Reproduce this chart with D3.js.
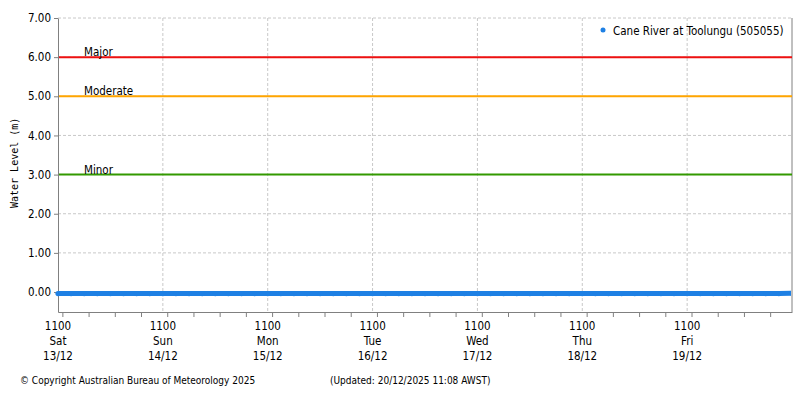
<!DOCTYPE html>
<html lang="en">
<head>
    <meta charset="UTF-8">
    <title>Cane River at Toolungu (505055)</title>
    <script src="https://d3js.org/d3.v7.min.js"></script>
    <style>
        body { margin: 0; background: #fff; }
        svg { display: block; font-family: "DejaVu Sans Condensed", "DejaVu Sans", Verdana, sans-serif; font-stretch: condensed; }
        .grid line { stroke: #c8c8c8; stroke-dasharray: 3,2; }
        .axis path, .axis line { stroke: #808080; }
        .axis text { font-size: 11.5px; fill: #000; font-family: "DejaVu Sans Condensed", "DejaVu Sans", sans-serif; }
        .flood-label { font-size: 11.5px; fill: #000; }
        .footer { font-size: 10px; fill: #000; }
    </style>
</head>
<body>
    <svg width="800" height="400"></svg>
    <script>
        // water level readings every 3 hours from 1100 Sat 13/12
        const startTime = "2025-12-13T11:00:00Z";
        const endTime = "2025-12-20T11:00:00Z";
        const stepHours = 3;
        const levels = [
            -0.04, -0.04, -0.04, -0.04, -0.04, -0.04, -0.04, -0.04,
            -0.04, -0.04, -0.04, -0.04, -0.04, -0.04, -0.04, -0.04,
            -0.04, -0.04, -0.04, -0.04, -0.04, -0.04, -0.04, -0.04,
            -0.04, -0.04, -0.04, -0.04, -0.04, -0.04, -0.04, -0.04,
            -0.04, -0.04, -0.04, -0.04, -0.04, -0.04, -0.04, -0.04,
            -0.04, -0.04, -0.04, -0.04, -0.04, -0.04, -0.04, -0.04,
            -0.04, -0.04, -0.04, -0.04, -0.04, -0.04, -0.04, -0.04,
            -0.03
        ];

        const floodNames = ["Major", "Moderate", "Minor"];
        const floodLevels = [6, 5, 3];
        const floodColors = ["#ee1111", "#ffa500", "#339900"];

        const yTicks = [0, 1, 2, 3, 4, 5, 6, 7];
        const tickHour = "1100";
        const dayNames = ["Sat", "Sun", "Mon", "Tue", "Wed", "Thu", "Fri"];
        const dayDates = ["13/12", "14/12", "15/12", "16/12", "17/12", "18/12", "19/12"];

        const seriesName = "Cane River at Toolungu (505055)";
        const seriesColor = "#1e80e4";

        const svg = d3.select("svg");
        const margin = {top: 18, right: 8, bottom: 88, left: 58};
        const width = +svg.attr("width") - margin.left - margin.right;
        const height = +svg.attr("height") - margin.top - margin.bottom;
        const g = svg.append("g").attr("transform", `translate(${margin.left},${margin.top})`);

        svg.append("defs").append("clipPath").attr("id", "plot-clip")
            .append("rect").attr("x", -4).attr("y", 0).attr("width", width + 3).attr("height", height);

        const t0 = new Date(startTime);
        const data = levels.map((v, i) => ({t: d3.utcHour.offset(t0, i * stepHours), v}));
        const dayTicks = dayNames.map((d, i) => d3.utcDay.offset(t0, i));

        const x = d3.scaleUtc().domain([t0, new Date(endTime)]).range([0, width]);
        const y = d3.scaleLinear().domain([-0.51, 7]).range([height, 0]);

        // grid
        g.append("g").attr("class", "grid")
            .selectAll("line").data(yTicks.slice(1))
            .join("line")
            .attr("x1", 0).attr("x2", width)
            .attr("y1", d => y(d)).attr("y2", d => y(d));
        g.append("g").attr("class", "grid")
            .selectAll("line").data(dayTicks.slice(1))
            .join("line")
            .attr("x1", d => x(d)).attr("x2", d => x(d))
            .attr("y1", 0).attr("y2", height);

        // right border
        g.append("line")
            .attr("x1", width).attr("x2", width)
            .attr("y1", 0).attr("y2", height)
            .attr("stroke", "#808080");

        // flood classification lines
        const flood = g.append("g");
        flood.selectAll("line").data(floodLevels)
            .join("line")
            .attr("x1", 0).attr("x2", width)
            .attr("y1", d => y(d)).attr("y2", d => y(d))
            .attr("stroke", (d, i) => floodColors[i])
            .attr("stroke-width", 2);
        flood.selectAll("text").data(floodLevels)
            .join("text")
            .attr("class", "flood-label")
            .attr("x", 26)
            .attr("y", d => y(d) - 1)
            .text((d, i) => floodNames[i]);

        // axes
        g.append("g").attr("class", "axis")
            .call(d3.axisLeft(y).tickValues(yTicks).tickFormat(d3.format(".2f")).tickSize(4).tickSizeOuter(0));

        const xAxis = g.append("g").attr("class", "axis")
            .attr("transform", `translate(0,${height})`)
            .call(d3.axisBottom(x)
                .ticks(d3.utcHour.every(6))
                .tickSize(5).tickSizeOuter(0)
                .tickFormat(() => ""));

        const dayLabels = g.append("g").attr("transform", `translate(0,${height})`)
            .selectAll("text").data(dayTicks)
            .join("text")
            .attr("x", d => x(d))
            .attr("text-anchor", "middle")
            .style("font-size", "11.5px");
        dayLabels.append("tspan").attr("x", d => x(d)).attr("y", 18).text(tickHour);
        dayLabels.append("tspan").attr("x", d => x(d)).attr("y", 33).text((d, i) => dayNames[i]);
        dayLabels.append("tspan").attr("x", d => x(d)).attr("y", 48).text((d, i) => dayDates[i]);

        // y axis title
        g.append("text")
            .attr("transform", `translate(${-40},${y(3.3)}) rotate(-90)`)
            .attr("text-anchor", "middle")
            .style("font-family", "'DejaVu Sans Mono', monospace")
            .style("font-stretch", "normal")
            .style("font-size", "10px")
            .text("Water Level (m)");

        // series
        const series = g.append("g").attr("clip-path", "url(#plot-clip)");
        series.append("path")
            .datum(data)
            .attr("fill", "none")
            .attr("stroke", seriesColor)
            .attr("stroke-width", 5)
            .attr("d", d3.line().x(d => x(d.t)).y(d => y(d.v)));
        series.selectAll("circle").data(data)
            .join("circle")
            .attr("cx", d => x(d.t))
            .attr("cy", d => y(d.v))
            .attr("r", 2.6)
            .attr("fill", seriesColor);

        // legend
        const legend = g.append("g").attr("transform", `translate(${width - 189},${12})`);
        legend.append("circle").attr("cx", 0).attr("cy", 0).attr("r", 2.5).attr("fill", seriesColor);
        legend.append("text").attr("x", 10).attr("y", 4.5)
            .style("font-size", "11.5px").text(seriesName);

        // footer
        svg.append("text").attr("class", "footer").attr("x", 20).attr("y", 384)
            .text("\u00a9 Copyright Australian Bureau of Meteorology 2025");
        svg.append("text").attr("class", "footer").attr("x", 330).attr("y", 384)
            .text("(Updated: 20/12/2025 11:08 AWST)");
    </script>
</body>
</html>
